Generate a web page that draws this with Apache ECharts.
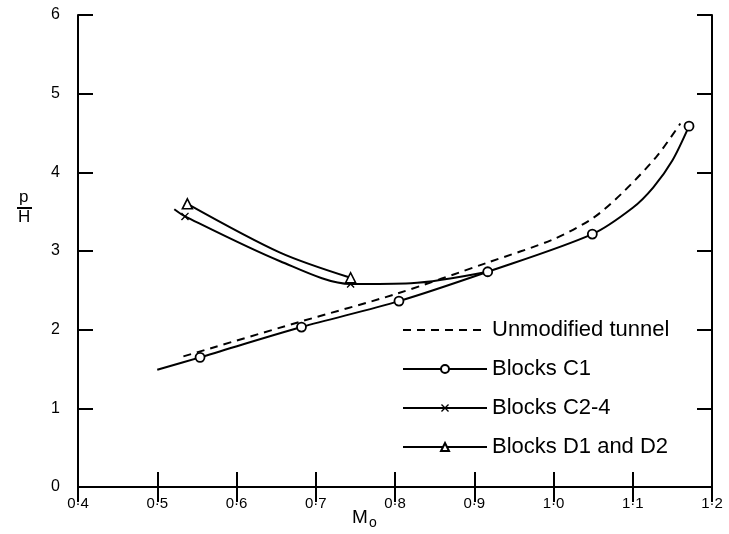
<!DOCTYPE html>
<html>
<head>
<meta charset="utf-8">
<script src="https://cdn.jsdelivr.net/npm/echarts@6/dist/echarts.min.js"></script>
<style>
html,body{margin:0;padding:0;background:#fff;}
#chart{width:729px;height:534px;}
</style>
</head>
<body>
<div id="chart"></div>
<script>
// ---- data ----
const xTicks = [0.4, 0.5, 0.6, 0.7, 0.8, 0.9, 1.0, 1.1, 1.2];
const yTicks = [0, 1, 2, 3, 4, 5, 6];

// Unmodified tunnel (dashed curve, no markers)
const unmodX = [0.533, 0.68, 0.80, 0.916, 1.00, 1.05, 1.088, 1.13, 1.16];
const unmodY = [1.66, 2.10, 2.45, 2.85, 3.15, 3.42, 3.75, 4.20, 4.62];

// Blocks C1: measured points (circles) and traced curve points
const c1MarkX = [0.554, 0.682, 0.805, 0.917, 1.049, 1.171];
const c1MarkY = [1.648, 2.033, 2.363, 2.736, 3.215, 4.587];
const c1TraceX = [0.500, 1.100, 1.126, 1.150];
const c1TraceY = [1.490, 3.550, 3.810, 4.150];

// Blocks C2-4: measured points (crosses) and traced curve points
const c24MarkX = [0.535, 0.744];
const c24MarkY = [3.44, 2.58];
const c24TraceX = [0.5215, 0.655, 0.82, 0.917];
const c24TraceY = [3.53, 2.87, 2.59, 2.736];

// Blocks D1 and D2: measured points (triangles) and traced curve points
const dMarkX = [0.538, 0.744];
const dMarkY = [3.60, 2.66];
const dTraceX = [0.655];
const dTraceY = [2.98];

const legendNames = ['Unmodified tunnel', 'Blocks C1', 'Blocks C2-4', 'Blocks D1 and D2'];

// ---- build ----
function build(mx, my, tx, ty) {
  const pts = [];
  mx.forEach((x, i) => pts.push({ value: [x, my[i]] }));
  tx.forEach((x, i) => pts.push({ value: [x, ty[i]], symbol: 'none' }));
  pts.sort((a, b) => a.value[0] - b.value[0]);
  return pts;
}
const fmtX = v => v.toFixed(1).replace('.', '·');

const crossPath = 'path://M0,1.2 L1.2,0 L10,8.8 L8.8,10 Z M8.8,0 L10,1.2 L1.2,10 L0,8.8 Z';
const FONT = '"Liberation Sans", Arial, sans-serif';

const chart = echarts.init(document.getElementById('chart'), null, { renderer: 'canvas' });
const axisCommon = {
  type: 'value',
  axisLine: { show: true, lineStyle: { color: '#000', width: 2 } },
  axisTick: { show: true, inside: true, length: 15, lineStyle: { color: '#000', width: 2 } },
  splitLine: { show: false },
  minorTick: { show: false }
};
const option = {
  backgroundColor: '#fff',
  animation: false,
  grid: { left: 78, right: 17, top: 15, bottom: 47 },
  xAxis: [
    Object.assign({}, axisCommon, {
      min: 0.4, max: 1.2, interval: 0.1, position: 'bottom',
      axisLabel: { formatter: fmtX, color: '#000', fontSize: 15, fontFamily: FONT, margin: 9 }
    }),
    Object.assign({}, axisCommon, {
      min: 0.4, max: 1.2, interval: 0.1, position: 'top',
      axisLabel: { show: false }
    })
  ],
  yAxis: [
    Object.assign({}, axisCommon, {
      min: 0, max: 6, interval: 1, position: 'left',
      axisLabel: { color: '#000', fontSize: 16, fontFamily: FONT, margin: 18 }
    }),
    Object.assign({}, axisCommon, {
      min: 0, max: 6, interval: 1, position: 'right',
      axisLabel: { show: false }
    })
  ],
  legend: {
    orient: 'vertical',
    left: 397, top: 314,
    itemWidth: 84, itemHeight: 10, itemGap: 17,
    data: [
      { name: legendNames[0], itemStyle: { opacity: 0 } },
      legendNames[1], legendNames[2], legendNames[3]
    ],
    textStyle: { color: '#000', fontSize: 22, fontFamily: FONT, lineHeight: 22 },
    selectedMode: false
  },
  graphic: [
    { type: 'text', left: 19, top: 189, style: { text: 'p', fill: '#000', font: '17px ' + FONT } },
    { type: 'line', shape: { x1: 17, y1: 208, x2: 32, y2: 208 }, style: { stroke: '#000', lineWidth: 2 } },
    { type: 'text', left: 18, top: 209, style: { text: 'H', fill: '#000', font: '17px ' + FONT } },
    { type: 'text', left: 352, top: 508, style: { text: 'M', fill: '#000', font: '19px ' + FONT } },
    { type: 'text', left: 369, top: 516, style: { text: 'o', fill: '#000', font: '14px ' + FONT } }
  ],
  series: [
    {
      name: legendNames[0], type: 'line', smooth: 0.3,
      symbol: 'none', showSymbol: false,
      lineStyle: { color: '#000', width: 2, type: [8, 6] },
      itemStyle: { color: '#000' },
      data: unmodX.map((x, i) => [x, unmodY[i]]), z: 2
    },
    {
      name: legendNames[1], type: 'line', smooth: 0.3,
      symbol: 'circle', symbolSize: 9, showAllSymbol: true,
      lineStyle: { color: '#000', width: 2 },
      itemStyle: { color: '#fff', borderColor: '#000', borderWidth: 1.8 },
      data: build(c1MarkX, c1MarkY, c1TraceX, c1TraceY), z: 3
    },
    {
      name: legendNames[2], type: 'line', smooth: 0.3,
      symbol: crossPath, symbolSize: 8, showAllSymbol: true,
      lineStyle: { color: '#000', width: 2 },
      itemStyle: { color: '#000' },
      data: build(c24MarkX, c24MarkY, c24TraceX, c24TraceY), z: 3
    },
    {
      name: legendNames[3], type: 'line', smooth: 0.3,
      symbol: 'triangle', symbolSize: 10, showAllSymbol: true,
      lineStyle: { color: '#000', width: 2 },
      itemStyle: { color: '#fff', borderColor: '#000', borderWidth: 1.6 },
      data: build(dMarkX, dMarkY, dTraceX, dTraceY), z: 3
    }
  ]
};
chart.setOption(option);
</script>
</body>
</html>
